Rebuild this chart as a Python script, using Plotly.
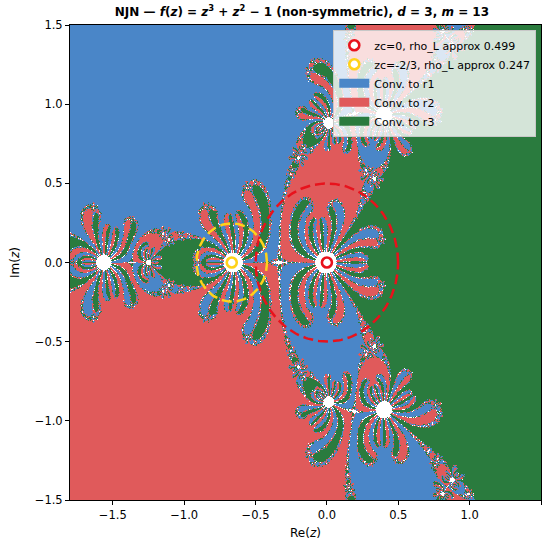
import numpy as np
import plotly.graph_objs as go

# f(z) = z^3 + z^2 - 1
coeffs = [1, 1, 0, -1]
x_range = [-1.8, 1.5]
y_range = [-1.5, 1.5]
nx, ny = 480, 480
max_iter = 40
tol = 1e-3
# weights of the three sub-steps (all with the derivative frozen at z)
step_weights = [1.0, 0.5, 1.0]

# critical points and the local radii shown in the legend
zc_values = [0.0, -2 / 3]
zc_labels = ["zc=0, rho_L approx 0.499", "zc=-2/3, rho_L approx 0.247"]
rho_values = [0.499, 0.247]
zc_colors = ["#e8121c", "#ffd21a"]

basin_names = ["Conv. to r1", "Conv. to r2", "Conv. to r3"]
basin_colors = ["#4a86c8", "#e05a5b", "#2a7b3e"]
ticks = [-1.5, -1.0, -0.5, 0.0, 0.5, 1.0, 1.5]

roots = np.roots(coeffs)
dcoeffs = np.polyder(coeffs)


def f(z):
    return np.polyval(coeffs, z)


def df(z):
    return np.polyval(dcoeffs, z)


def njn_step(z):
    dz = df(z)
    for wt in step_weights:
        z = z - wt * f(z) / dz
    return z


def basins():
    dx = (x_range[1] - x_range[0]) / nx
    dy = (y_range[1] - y_range[0]) / ny
    xs = x_range[0] + dx * (np.arange(nx) + 0.5)
    ys = y_range[0] + dy * (np.arange(ny) + 0.5)
    Z = xs[None, :] + 1j * ys[:, None]
    lab = np.zeros(Z.shape, dtype=int)
    with np.errstate(all="ignore"):
        for _ in range(max_iter):
            Z = njn_step(Z)
            for k, r in enumerate(roots):
                hit = (lab == 0) & (np.abs(Z - r) < tol)
                lab[hit] = k + 1
    return xs, ys, lab


xs, ys, lab = basins()

cols = ["white"] + basin_colors
scale = []
for i, c in enumerate(cols):
    scale.append([i / 4, c])
    scale.append([(i + 1) / 4, c])

fig = go.Figure()
fig.add_trace(go.Heatmap(x=xs, y=ys, z=lab, zmin=-0.5, zmax=3.5, colorscale=scale,
                         showscale=False, hoverinfo="skip", showlegend=False))

theta = np.linspace(0, 2 * np.pi, 240)
for zc, rho, col in zip(zc_values, rho_values, zc_colors):
    fig.add_trace(go.Scatter(x=zc + rho * np.cos(theta), y=rho * np.sin(theta),
                             mode="lines", line=dict(color=col, width=2.5, dash="10px,5px"),
                             showlegend=False, hoverinfo="skip"))

for zc, name, col in zip(zc_values, zc_labels, zc_colors):
    fig.add_trace(go.Scatter(x=[zc], y=[0], mode="markers", name=name,
                             marker=dict(size=10, color="white",
                                         line=dict(color=col, width=2.6))))

for name, col in zip(basin_names, basin_colors):
    fig.add_trace(go.Scatter(x=[None], y=[None], mode="lines", name=name,
                             line=dict(color=col, width=9)))

axis = dict(showline=True, linecolor="black", linewidth=1, mirror=True,
            ticks="outside", ticklen=4, tickcolor="black", showgrid=False,
            zeroline=False, tickvals=ticks, tickformat=".1f", automargin=False,
            tickfont=dict(size=11.5, color="black"))

fig.update_layout(
    width=550, height=545,
    margin=dict(l=70, r=9, t=25, b=45),
    plot_bgcolor="white", paper_bgcolor="white",
    font=dict(family="DejaVu Sans", color="black"),
    title=dict(text="<b>NJN — <i>f</i>(<i>z</i>) = <i>z</i><sup>3</sup> + <i>z</i><sup>2</sup> − 1 "
                    "(non-symmetric), <i>d</i> = 3, <i>m</i> = 13</b>",
               x=0.549, xanchor="center", y=0.978, yanchor="middle", yref="container",
               font=dict(size=12)),
    xaxis=dict(axis, range=x_range,
               title=dict(text="Re(<i>z</i>)", font=dict(size=12), standoff=7)),
    yaxis=dict(axis, range=y_range,
               title=dict(text="Im(<i>z</i>)", font=dict(size=12), standoff=12)),
    legend=dict(x=0.99, y=0.99, xanchor="right", yanchor="top",
                bgcolor="rgba(255,255,255,0.8)", bordercolor="#c8c8c8", borderwidth=1,
                font=dict(size=11), itemwidth=30, tracegroupgap=0),
)
fig.write_html("out.html", config={"displayModeBar": False},
               post_script="document.body.style.margin='0px';")
